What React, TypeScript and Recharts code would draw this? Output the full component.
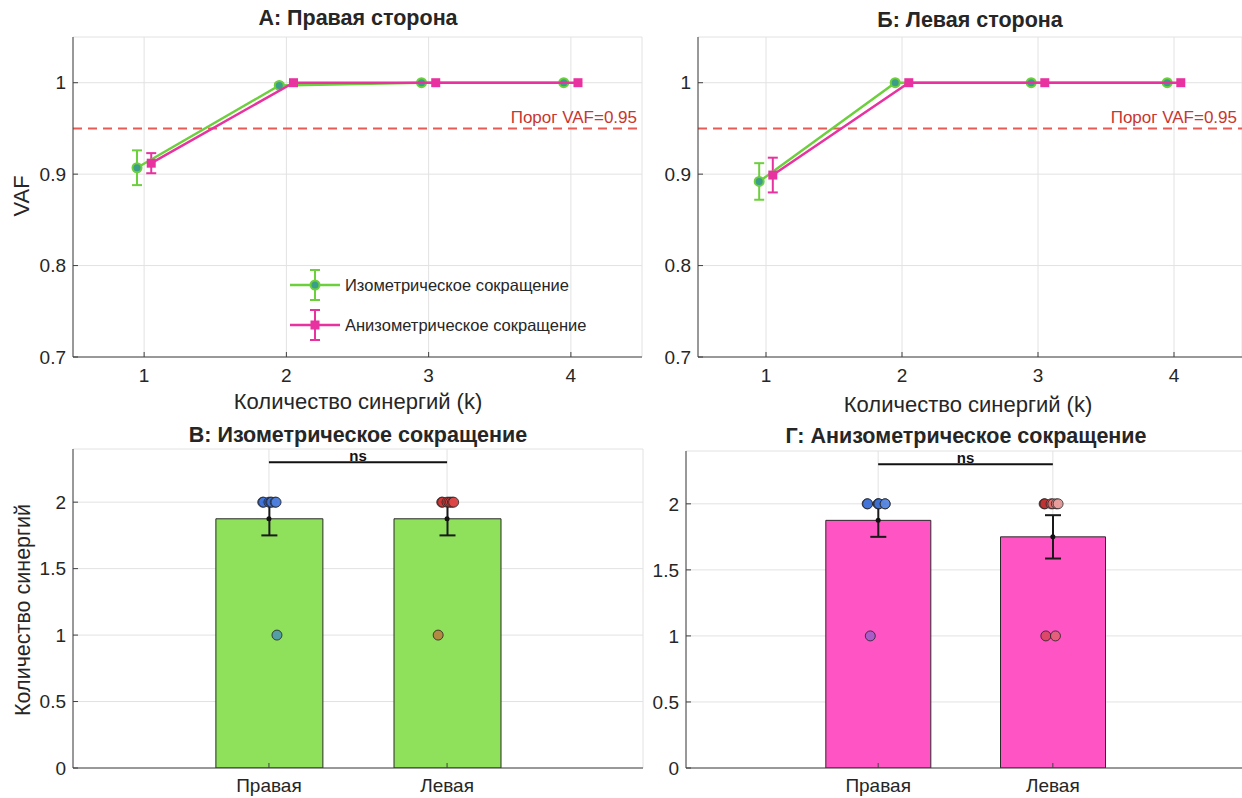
import React from 'react';
import { ComposedChart, Scatter, Bar, XAxis, YAxis, CartesianGrid, ReferenceLine, ErrorBar, Cell } from 'recharts';

// --- VAF vs number of synergies (top panels)
const kValues = [1, 2, 3, 4];
const isoRightVaf = [0.907, 0.997, 1.0, 1.0];
const isoRightSem = [0.019, 0.002, 0, 0];
const anisoRightVaf = [0.912, 1.0, 1.0, 1.0];
const anisoRightSem = [0.011, 0, 0, 0];
const isoLeftVaf = [0.892, 1.0, 1.0, 1.0];
const isoLeftSem = [0.02, 0, 0, 0];
const anisoLeftVaf = [0.899, 1.0, 1.0, 1.0];
const anisoLeftSem = [0.019, 0, 0, 0];
const vafTicks = [0.7, 0.8, 0.9, 1];
const vafThreshold = 0.95;

// --- synergy counts (bottom panels)
const sides = ['Правая', 'Левая'];
const isoMean = [1.875, 1.875];
const isoSem = [0.125, 0.125];
const anisoMean = [1.875, 1.75];
const anisoSem = [0.125, 0.164];
const synergyTicks = [0, 0.5, 1, 1.5, 2];
const nsLevel = 2.3;

// individual subjects: synergy count and horizontal jitter
const isoRightCounts = [2, 2, 2, 2, 2, 2, 2, 1];
const isoRightJitter = [-0.035, -0.03, 0.0, 0.01, 0.015, 0.035, 0.04, 0.045];
const isoLeftCounts = [2, 2, 2, 2, 2, 2, 2, 1];
const isoLeftJitter = [-0.03, -0.025, 0.0, 0.01, 0.02, 0.03, 0.037, -0.05];
const anisoRightCounts = [2, 2, 2, 2, 2, 2, 2, 1];
const anisoRightJitter = [-0.063, -0.06, 0.0, 0.0, 0.005, 0.04, 0.04, -0.045];
const anisoLeftCounts = [2, 2, 2, 2, 2, 2, 1, 1];
const anisoLeftJitter = [-0.05, -0.045, -0.01, 0.0, 0.02, 0.03, -0.04, 0.015];

const isoRightColors = ['#3a6cd2', '#3f72d8', '#3565c8', '#4677d6', '#3c6ed0', '#4a7bdc', '#4d7fdc', '#4a93b0'];
const isoLeftColors = ['#d83a3a', '#cf3434', '#dc4444', '#d23838', '#e04a4a', '#d94040', '#de4848', '#b87a3e'];
const anisoRightColors = ['#3a6cd2', '#3f72d8', '#3565c8', '#4677d6', '#3c6ed0', '#4a7bdc', '#5a88e0', '#9b5fc9'];
const anisoLeftColors = ['#b02828', '#c03030', '#d85c5c', '#e07070', '#e48888', '#eaa0a0', '#d9455a', '#e0606e'];

const FONT = '"Liberation Sans", Arial, Helvetica, sans-serif';
const AXIS = '#404040';
const TEXT = '#262626';
const GRID = '#e2e2e2';
const GREEN = '#6ccf3c';
const GREEN_FILL = '#3a9e8a';
const MAGENTA = '#e8329f';
const THRESH = '#ea5a55';

const vafPoints = (vals: number[], sems: number[], shift: number) =>
  kValues.map((k, i) => ({ x: k + shift, y: vals[i], err: sems[i] > 0 ? sems[i] : null }));

const subjectPoints = (counts: number[], jitter: number[], pos: number) =>
  counts.map((c, i) => ({ x: pos + jitter[i], y: c }));

const Txt = ({ x, y, size, bold, rotate, color, children }: any) => (
  <div
    style={{
      position: 'absolute',
      left: x,
      top: y,
      transform: `translate(-50%, -50%)${rotate ? ' rotate(-90deg)' : ''}`,
      fontSize: size,
      fontWeight: bold ? 700 : 400,
      color: color || TEXT,
      whiteSpace: 'nowrap',
      fontFamily: FONT,
      lineHeight: 1,
    }}
  >
    {children}
  </div>
);

const GreenDot = (p: any) => <circle cx={p.cx} cy={p.cy} r={4.5} fill={GREEN_FILL} stroke={GREEN} strokeWidth={2} />;
const MagentaSquare = (p: any) => <rect x={p.cx - 4.5} y={p.cy - 4.5} width={9} height={9} fill={MAGENTA} />;
const MeanDot = (p: any) => <circle cx={p.cx} cy={p.cy} r={2.5} fill="#111" />;
const SubjectDot = (p: any) => (
  <circle cx={p.cx} cy={p.cy} r={5} fill={p.fill} fillOpacity={0.85} stroke="#222" strokeWidth={0.8} />
);

const tickStyle = { fill: TEXT, fontSize: 19, fontFamily: FONT };

const VafChart = ({ iso, isoErr, aniso, anisoErr, width }: any) => {
  const isoPts = vafPoints(iso, isoErr, -0.05);
  const anisoPts = vafPoints(aniso, anisoErr, 0.05);
  return (
    <ComposedChart width={width} height={401} margin={{ top: 37, right: 4, bottom: 0, left: 0 }}>
      <CartesianGrid stroke={GRID} />
      <XAxis dataKey="x" type="number" domain={[0.5, 4.5]} ticks={kValues} allowDataOverflow height={44}
        tickSize={-5} tickMargin={17} stroke={AXIS} tick={tickStyle} />
      <YAxis type="number" domain={[0.7, 1.05]} ticks={vafTicks} allowDataOverflow width={73}
        tickSize={-5} tickMargin={12} stroke={AXIS} tick={tickStyle} />
      <XAxis xAxisId="top" orientation="top" type="number" domain={[0.5, 4.5]} ticks={kValues} height={0}
        tickSize={-5} tick={false} stroke={AXIS} />
      <YAxis yAxisId="right" orientation="right" type="number" domain={[0.7, 1.05]} ticks={vafTicks} width={0}
        tickSize={-5} tick={false} stroke={AXIS} />
      <ReferenceLine y={vafThreshold} stroke={THRESH} strokeDasharray="9 6" strokeWidth={2}
        label={{ value: 'Порог VAF=0.95', position: 'insideBottomRight', offset: 5, fill: '#c8362f', fontSize: 17, fontFamily: FONT }} />
      <Scatter data={isoPts} dataKey="y" fill={GREEN} line={{ stroke: GREEN, strokeWidth: 2.5 }} shape={GreenDot}
        isAnimationActive={false}>
        <ErrorBar dataKey="err" direction="y" width={5} stroke={GREEN} strokeWidth={2} />
      </Scatter>
      <Scatter data={anisoPts} dataKey="y" fill={MAGENTA} line={{ stroke: MAGENTA, strokeWidth: 2.5 }} shape={MagentaSquare}
        isAnimationActive={false}>
        <ErrorBar dataKey="err" direction="y" width={5} stroke={MAGENTA} strokeWidth={2} />
      </Scatter>
    </ComposedChart>
  );
};

const CountChart = ({ means, sems, color, barSize, width, height, marginTop, subjects }: any) => {
  const barData = means.map((m: number, i: number) => ({ side: sides[i], mean: m, sem: sems[i] }));
  const meanPts = means.map((m: number, i: number) => ({ x: i + 1, y: m }));
  const plotW = width - 73 - 4;
  // category band centred on 1 and 2 of the [-0.1, 3.1] number axis
  const pad = (plotW * 0.6) / 3.2;
  return (
    <ComposedChart width={width} height={height} data={barData} margin={{ top: marginTop, right: 4, bottom: 0, left: 0 }}>
      <CartesianGrid stroke={GRID} />
      <XAxis dataKey="x" type="number" domain={[-0.1, 3.1]} ticks={[1, 2]} allowDataOverflow height={30}
        tickFormatter={(v: number) => sides[v - 1]} tickSize={-5} tickMargin={16} stroke={AXIS} tick={tickStyle} />
      <XAxis xAxisId="cat" dataKey="side" type="category" hide padding={{ left: pad, right: pad }} />
      <YAxis type="number" domain={[0, 2.4]} ticks={synergyTicks} allowDataOverflow width={73}
        tickSize={-5} tickMargin={12} stroke={AXIS} tick={tickStyle} />
      <XAxis xAxisId="top" orientation="top" type="number" domain={[-0.1, 3.1]} ticks={[1, 2]} height={0}
        tickSize={-5} tick={false} stroke={AXIS} />
      <YAxis yAxisId="right" orientation="right" type="number" domain={[0, 2.4]} ticks={synergyTicks} width={0}
        tickSize={-5} tick={false} stroke={AXIS} />
      <Bar xAxisId="cat" dataKey="mean" fill={color} stroke="#2a2a2a" strokeWidth={1} barSize={barSize}
        isAnimationActive={false}>
        <ErrorBar dataKey="sem" direction="y" width={8} stroke="#1a1a1a" strokeWidth={2} />
      </Bar>
      <Scatter data={meanPts} dataKey="y" shape={MeanDot} isAnimationActive={false} />
      {subjects.map((s: any, j: number) => (
        <Scatter key={j} data={s.points} dataKey="y" shape={SubjectDot} isAnimationActive={false}>
          {s.points.map((_: any, i: number) => (
            <Cell key={i} fill={s.colors[i]} />
          ))}
        </Scatter>
      ))}
      <ReferenceLine segment={[{ x: 1, y: nsLevel }, { x: 2, y: nsLevel }]} stroke="#111" strokeWidth={2}
        label={{ value: 'ns', position: 'top', offset: 1, fill: '#111', fontSize: 15, fontWeight: 700, fontFamily: FONT }} />
    </ComposedChart>
  );
};

const LegendRow = ({ y, color, square, label }: any) => (
  <div style={{ position: 'absolute', left: 288, top: y - 20, height: 40, display: 'flex', alignItems: 'center' }}>
    <svg width={54} height={40}>
      <line x1={2} y1={20} x2={52} y2={20} stroke={color} strokeWidth={2.5} />
      <line x1={27} y1={5} x2={27} y2={35} stroke={color} strokeWidth={2} />
      <line x1={22} y1={5} x2={32} y2={5} stroke={color} strokeWidth={2} />
      <line x1={22} y1={35} x2={32} y2={35} stroke={color} strokeWidth={2} />
      {square ? (
        <rect x={22.5} y={15.5} width={9} height={9} fill={MAGENTA} />
      ) : (
        <circle cx={27} cy={20} r={4.5} fill={GREEN_FILL} stroke={GREEN} strokeWidth={2} />
      )}
    </svg>
    <span style={{ marginLeft: 3, fontSize: 16.5, fontFamily: FONT, color: TEXT, whiteSpace: 'nowrap' }}>{label}</span>
  </div>
);

export default function App() {
  return (
    <div style={{ position: 'absolute', left: 0, top: 0, width: 1242, height: 798, overflow: 'hidden', background: '#fff' }}>
      <div style={{ position: 'absolute', left: 0, top: 0 }}>
        <VafChart iso={isoRightVaf} isoErr={isoRightSem} aniso={anisoRightVaf} anisoErr={anisoRightSem} width={646} />
      </div>
      <div style={{ position: 'absolute', left: 625, top: 0 }}>
        <VafChart iso={isoLeftVaf} isoErr={isoLeftSem} aniso={anisoLeftVaf} anisoErr={anisoLeftSem} width={621} />
      </div>
      <div style={{ position: 'absolute', left: 0, top: 400 }}>
        <CountChart means={isoMean} sems={isoSem} color="#8fe05a" barSize={107} width={647} height={398} marginTop={49}
          subjects={[
            { points: subjectPoints(isoRightCounts, isoRightJitter, 1), colors: isoRightColors },
            { points: subjectPoints(isoLeftCounts, isoLeftJitter, 2), colors: isoLeftColors },
          ]} />
      </div>
      <div style={{ position: 'absolute', left: 613, top: 400 }}>
        <CountChart means={anisoMean} sems={anisoSem} color="#ff55c4" barSize={105} width={636} height={398} marginTop={51}
          subjects={[
            { points: subjectPoints(anisoRightCounts, anisoRightJitter, 1), colors: anisoRightColors },
            { points: subjectPoints(anisoLeftCounts, anisoLeftJitter, 2), colors: anisoLeftColors },
          ]} />
      </div>

      <LegendRow y={285} color={GREEN} label="Изометрическое сокращение" />
      <LegendRow y={325} color={MAGENTA} square label="Анизометрическое сокращение" />

      <Txt x={358} y={19} size={21.5} bold>А: Правая сторона</Txt>
      <Txt x={970} y={21} size={21.5} bold>Б: Левая сторона</Txt>
      <Txt x={358} y={436} size={21.5} bold>В: Изометрическое сокращение</Txt>
      <Txt x={966} y={437} size={21.5} bold>Г: Анизометрическое сокращение</Txt>
      <Txt x={358} y={402} size={22}>Количество синергий (k)</Txt>
      <Txt x={968} y={405} size={22}>Количество синергий (k)</Txt>
      <Txt x={22} y={196} size={22} rotate>VAF</Txt>
      <Txt x={24} y={610} size={21.5} rotate>Количество синергий</Txt>
    </div>
  );
}
